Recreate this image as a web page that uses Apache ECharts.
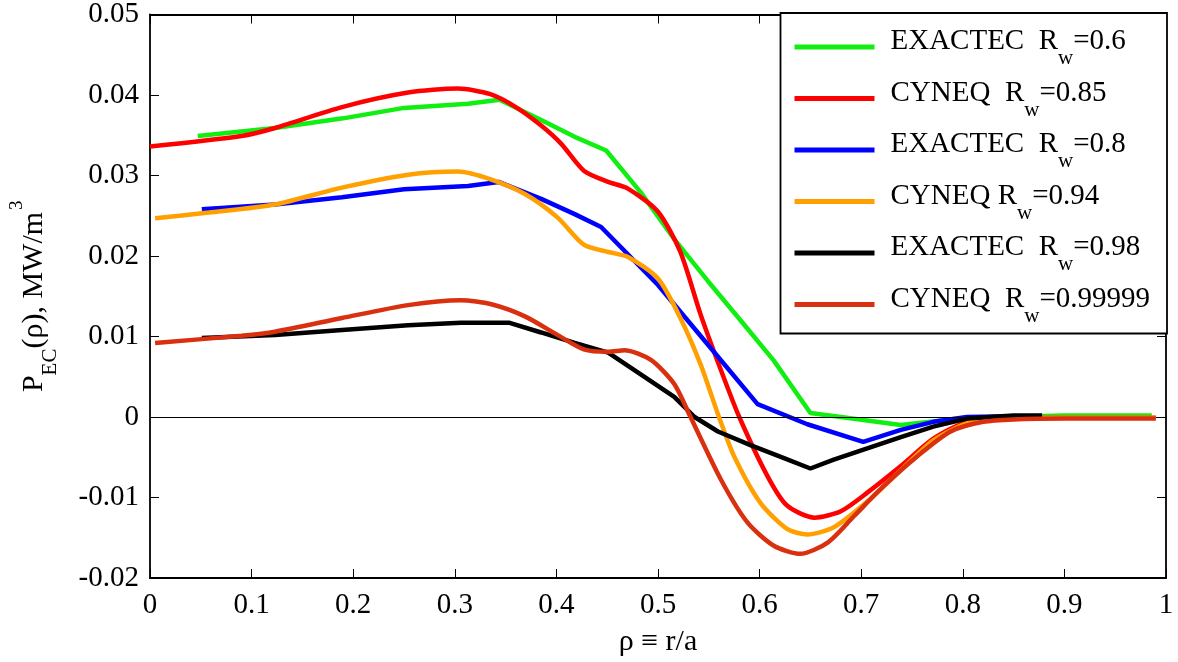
<!DOCTYPE html>
<html>
<head>
<meta charset="utf-8">
<script src="https://cdn.jsdelivr.net/npm/echarts@6/dist/echarts.min.js"></script>
<style>
html,body{margin:0;padding:0;background:#fff;}
#chart{width:1178px;height:662px;}
</style>
</head>
<body>
<div id="chart"></div>
<script>
// Data: [rho, P_EC]
const exactec06 = [[0.047,0.0349],[0.123,0.0359],[0.19,0.0371],[0.25,0.0384],[0.313,0.0389],[0.344,0.0394],[0.385,0.0369],[0.418,0.0348],[0.449,0.0331],[0.483,0.0279],[0.516,0.0221],[0.549,0.0169],[0.582,0.0119],[0.614,0.0070],[0.650,0.0005],[0.68,0.0],[0.739,-0.001],[0.804,-0.0001],[0.9,0.0002],[0.986,0.0002]];
const cyneq085 = [[0.0,0.0336],[0.09,0.0349],[0.123,0.0359],[0.189,0.0385],[0.254,0.0403],[0.303,0.0408],[0.335,0.0401],[0.36,0.0385],[0.385,0.0362],[0.405,0.0339],[0.427,0.0306],[0.451,0.0292],[0.47,0.0284],[0.5,0.0255],[0.522,0.0205],[0.542,0.0127],[0.562,0.0058],[0.58,0.0],[0.608,-0.0074],[0.627,-0.011],[0.654,-0.0125],[0.68,-0.0117],[0.706,-0.0094],[0.739,-0.0061],[0.771,-0.0027],[0.804,-0.0006],[0.837,-0.0002],[0.9,-0.0001],[0.99,-0.0001]];
const exactec08 = [[0.051,0.0258],[0.123,0.0264],[0.189,0.0273],[0.25,0.0283],[0.313,0.0287],[0.343,0.0292],[0.385,0.0271],[0.418,0.0252],[0.444,0.0236],[0.5,0.0164],[0.549,0.009],[0.598,0.0016],[0.647,-0.0009],[0.702,-0.0031],[0.739,-0.0016],[0.771,-0.0006],[0.804,0.0],[0.85,0.0001]];
const cyneq094 = [[0.005,0.0247],[0.058,0.0254],[0.123,0.0264],[0.189,0.0285],[0.254,0.0301],[0.303,0.0305],[0.336,0.0295],[0.369,0.0277],[0.401,0.0248],[0.427,0.0214],[0.451,0.0205],[0.47,0.0199],[0.5,0.0172],[0.522,0.0123],[0.542,0.0065],[0.56,0.0],[0.575,-0.0049],[0.601,-0.0107],[0.627,-0.0139],[0.647,-0.0146],[0.673,-0.0137],[0.706,-0.0105],[0.739,-0.0066],[0.771,-0.0029],[0.804,-0.0008],[0.837,-0.0002],[0.9,-0.0001],[0.99,-0.0001]];
const exactec098 = [[0.051,0.0098],[0.123,0.0102],[0.189,0.0108],[0.254,0.0114],[0.306,0.0117],[0.354,0.0117],[0.385,0.0105],[0.418,0.0092],[0.451,0.008],[0.483,0.0053],[0.516,0.0025],[0.536,0.0],[0.559,-0.0018],[0.591,-0.0035],[0.624,-0.0051],[0.65,-0.0064],[0.673,-0.0053],[0.706,-0.0039],[0.739,-0.0025],[0.771,-0.0012],[0.804,-0.0002],[0.85,0.0002],[0.878,0.0002]];
const cyneq099999 = [[0.005,0.0092],[0.09,0.0101],[0.123,0.0106],[0.189,0.0123],[0.254,0.0139],[0.306,0.0145],[0.336,0.014],[0.369,0.0125],[0.401,0.0102],[0.427,0.0084],[0.451,0.0081],[0.467,0.0083],[0.493,0.0071],[0.516,0.0041],[0.532,0.0],[0.562,-0.0078],[0.588,-0.0131],[0.614,-0.016],[0.64,-0.017],[0.667,-0.0156],[0.693,-0.0123],[0.722,-0.0086],[0.755,-0.0049],[0.788,-0.0018],[0.82,-0.0006],[0.85,-0.0003],[0.9,-0.0002],[0.99,-0.0002]];

const seriesNames = ['EXACTEC 0.6','CYNEQ 0.85','EXACTEC 0.8','CYNEQ 0.94','EXACTEC 0.98','CYNEQ 0.99999'];
const legendCodes = ['EXACTEC  ','CYNEQ  ','EXACTEC  ','CYNEQ ','EXACTEC  ','CYNEQ  '];
const legendRw = ['0.6','0.85','0.8','0.94','0.98','0.99999'];
const seriesColors = ['#11ee11','#ff0000','#0000ff','#ffa000','#000000','#d93010'];
const seriesData = [exactec06, cyneq085, exactec08, cyneq094, exactec098, cyneq099999];
const seriesSmooth = [false, 0.25, false, 0.25, false, 0.25];

const xTicks = {min:0, max:1, interval:0.1};
const yTicks = {min:-0.02, max:0.05, interval:0.01};

const FONT = 'Liberation Serif';
const chart = echarts.init(document.getElementById('chart'), null, {renderer:'canvas'});

const axisCommon = {
  axisLine:{show:true, onZero:false, lineStyle:{color:'#000', width:1.8}},
  axisTick:{show:true, inside:true, length:9, lineStyle:{color:'#000', width:1}},
  splitLine:{show:false}
};

const series = seriesNames.map((n,i)=>({
  name:n, type:'line', data:seriesData[i], showSymbol:false, symbol:'none',
  smooth:seriesSmooth[i], lineStyle:{color:seriesColors[i], width:4.5},
  itemStyle:{color:seriesColors[i]}, z:2+i, animation:false
}));
series[0].markLine = {
  silent:true, symbol:'none', animation:false,
  label:{show:false},
  lineStyle:{color:'#000', width:1.2, type:'solid'},
  data:[{yAxis:0}]
};

chart.setOption({
  animation:false,
  backgroundColor:'#fff',
  grid:{left:148, right:12, top:14, bottom:79, containLabel:false},
  xAxis:[
    Object.assign({type:'value', position:'bottom', min:xTicks.min, max:xTicks.max, interval:xTicks.interval,
      name:'ρ ≡ r/a', nameLocation:'middle', nameGap:49,
      nameTextStyle:{fontFamily:FONT, fontSize:30, color:'#000'},
      axisLabel:{fontFamily:FONT, fontSize:29, color:'#000', margin:13,
        formatter:v=>{ if(v===0) return '0'; if(Math.abs(v-1)<1e-9) return '1'; return v.toFixed(1);} }
    }, axisCommon),
    Object.assign({type:'value', position:'top', min:xTicks.min, max:xTicks.max, interval:xTicks.interval,
      axisLabel:{show:false}}, axisCommon)
  ],
  yAxis:[
    Object.assign({type:'value', position:'left', min:yTicks.min, max:yTicks.max, interval:yTicks.interval,
      name:'{a|P}{b|EC}{a|(ρ), MW/m}{c|3}', nameLocation:'middle', nameGap:89,
      nameTextStyle:{fontFamily:FONT, color:'#000',
        rich:{
          a:{fontFamily:FONT, fontSize:30, color:'#000', verticalAlign:'top', padding:[11,0,0,0]},
          b:{fontFamily:FONT, fontSize:21, color:'#000', verticalAlign:'top', padding:[32,0,0,0]},
          c:{fontFamily:FONT, fontSize:19, color:'#000', verticalAlign:'top', padding:[0,0,0,2]}
        }},
      axisLabel:{fontFamily:FONT, fontSize:29, color:'#000', margin:11,
        formatter:v=>{ if(Math.abs(v)<1e-12) return '0'; return v.toFixed(2);} }
    }, axisCommon),
    Object.assign({type:'value', position:'right', min:yTicks.min, max:yTicks.max, interval:yTicks.interval,
      axisLabel:{show:false}}, axisCommon)
  ],
  legend:{
    show:true, orient:'vertical', right:11, top:13,
    data:seriesNames, icon:'rect', itemWidth:80, itemHeight:5, itemGap:9.5,
    backgroundColor:'#fff', borderColor:'#000', borderWidth:1.8, borderRadius:0,
    padding:[14,17,7,14],
    selectedMode:false,
    formatter:function(name){
      const i = seriesNames.indexOf(name);
      return '{m|'+legendCodes[i]+'R}{s|w}{m|='+legendRw[i]+'}';
    },
    textStyle:{fontFamily:FONT, color:'#000', padding:[0,0,0,11],
      rich:{
        m:{fontFamily:FONT, fontSize:29, color:'#000', verticalAlign:'top', padding:[2,0,0,0]},
        s:{fontFamily:FONT, fontSize:21, color:'#000', verticalAlign:'top', padding:[23,0,0,0]}
      }}
  },
  series:series
});
</script>
</body>
</html>
